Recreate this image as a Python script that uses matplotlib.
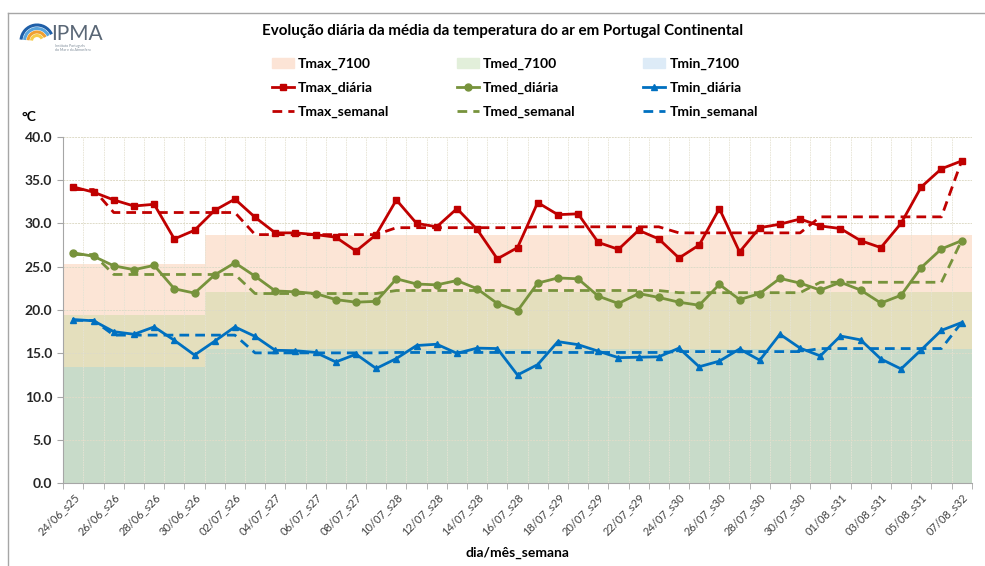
import numpy as np
import matplotlib
matplotlib.use("Agg")
import matplotlib.pyplot as plt
from matplotlib.patches import Patch, Arc
from matplotlib.lines import Line2D

plt.rcParams['font.family'] = ['Lato', 'DejaVu Sans']

# rótulos do eixo x (um em cada dois dias)
rotulos = ["24/06_s25", "26/06_s26", "28/06_s26", "30/06_s26", "02/07_s26",
           "04/07_s27", "06/07_s27", "08/07_s27", "10/07_s28", "12/07_s28",
           "14/07_s28", "16/07_s28", "18/07_s29", "20/07_s29", "22/07_s29",
           "24/07_s30", "26/07_s30", "28/07_s30", "30/07_s30", "01/08_s31",
           "03/08_s31", "05/08_s31", "07/08_s32"]

# valores diários (24/06 a 07/08)
tmax_diaria = [34.2, 33.6, 32.7, 32.0, 32.2, 28.2, 29.2, 31.5, 32.8, 30.7,
               28.9, 28.9, 28.7, 28.4, 26.8, 28.7, 32.7, 30.0, 29.6, 31.7,
               29.3, 25.9, 27.2, 32.4, 31.0, 31.1, 27.8, 27.0, 29.2, 28.2,
               26.0, 27.5, 31.7, 26.7, 29.5, 29.9, 30.5, 29.7, 29.4, 28.0,
               27.2, 30.0, 34.2, 36.3, 37.2]
tmed_diaria = [26.6, 26.2, 25.1, 24.65, 25.15, 22.45, 21.95, 24.05, 25.45, 23.9,
               22.2, 22.1, 21.9, 21.2, 20.9, 21.0, 23.6, 23.0, 22.9, 23.4,
               22.45, 20.75, 19.9, 23.1, 23.7, 23.6, 21.6, 20.75, 21.9, 21.45,
               20.9, 20.55, 22.95, 21.2, 21.9, 23.65, 23.1, 22.3, 23.2, 22.3,
               20.8, 21.7, 24.9, 27.05, 28.0]
tmin_diaria = [18.9, 18.75, 17.5, 17.2, 18.05, 16.5, 14.8, 16.4, 18.05, 16.95,
               15.35, 15.3, 15.1, 14.0, 14.9, 13.25, 14.4, 15.9, 16.05, 15.0,
               15.6, 15.55, 12.5, 13.7, 16.35, 16.0, 15.25, 14.5, 14.55, 14.6,
               15.6, 13.45, 14.1, 15.5, 14.2, 17.2, 15.6, 14.7, 17.0, 16.55,
               14.35, 13.2, 15.4, 17.65, 18.55]

# valores semanais (s25 a s32) e número de dias de cada semana no período
dias_semana = [2, 7, 7, 7, 7, 7, 7, 1]
tmax_semanal = [33.9, 31.25, 28.7, 29.5, 29.6, 28.9, 30.75, 37.2]
tmed_semanal = [26.4, 24.1, 21.9, 22.25, 22.25, 22.0, 23.2, 28.0]
tmin_semanal = [18.8, 17.1, 15.05, 15.1, 15.1, 15.2, 15.55, 18.55]

# normais 1971-2000 (junho, julho, agosto) e dias de cada mês no período
dias_mes = [7, 31, 7]
tmax_7100 = [25.3, 28.7, 28.7]
tmed_7100 = [19.4, 22.05, 22.05]
tmin_7100 = [13.45, 15.5, 15.5]

n = len(tmax_diaria)
x = np.arange(n)
xe = np.arange(n + 1) - 0.5


def por_dia(valores, contagem):
    return np.repeat(valores, contagem)


def degrau(valores):
    v = por_dia(valores, dias_mes)
    return np.append(v, v[-1])


W, H = 985, 566
fig = plt.figure(figsize=(W / 100, H / 100), dpi=100)


def fx(px):
    return px / W


def fy(py):
    return 1 - py / H


ax = fig.add_axes([fx(63.3), fy(483.3), fx(971.7) - fx(63.3), fy(136.7) - fy(483.3)])

# normais (áreas sobrepostas)
c_max, c_med, c_min = '#fce5d6', '#e4dfbd', '#c8dbc9'
ax.fill_between(xe, 0, degrau(tmax_7100), step='post', color=c_max, lw=0)
ax.fill_between(xe, 0, degrau(tmed_7100), step='post', color=c_med, lw=0)
ax.fill_between(xe, 0, degrau(tmin_7100), step='post', color=c_min, lw=0)

vermelho, verde, azul = '#c00000', '#77933c', '#0070c0'
tr = (3.5, 2.2)
ax.plot(x, por_dia(tmax_semanal, dias_semana), color=vermelho, lw=2, dashes=tr)
ax.plot(x, por_dia(tmed_semanal, dias_semana), color=verde, lw=2, dashes=tr)
ax.plot(x, por_dia(tmin_semanal, dias_semana), color=azul, lw=2, dashes=tr)
ax.plot(x, tmax_diaria, color=vermelho, lw=2, marker='s', ms=4)
ax.plot(x, tmed_diaria, color=verde, lw=2, marker='o', ms=5)
ax.plot(x, tmin_diaria, color=azul, lw=2, marker='^', ms=4)

ax.set_xlim(-0.5, n - 0.5)
ax.set_ylim(0, 40)
ax.set_yticks(np.arange(0, 40.1, 5))
ax.set_yticklabels([f"{v:.1f}" for v in np.arange(0, 40.1, 5)],
                   fontsize=10, fontweight='bold', color='#262626')
ax.set_xticks(x[::2])
ax.set_xticklabels(rotulos, rotation=45, ha='right', va='top',
                   rotation_mode='anchor', fontsize=8, color='#404040')
ax.set_xticks(xe, minor=True)
ax.tick_params(axis='x', which='major', length=0, pad=6)
ax.tick_params(axis='x', which='minor', length=4, color='#a6a6a6')
ax.tick_params(axis='y', length=4, color='#a6a6a6', pad=4)

ax.grid(axis='y', which='major', color='#dedbc8', lw=0.7, ls=(0, (2, 1)))
ax.grid(axis='x', which='minor', color='#e6e3d4', lw=0.6, ls=(0, (2, 1)))
for s in ['top', 'right']:
    ax.spines[s].set_visible(False)
for s in ['left', 'bottom']:
    ax.spines[s].set_color('#a6a6a6')

ax.set_xlabel("dia/mês_semana", fontsize=10, fontweight='bold', labelpad=7)
fig.text(fx(22), fy(117), "°C", fontsize=10, fontweight='bold', va='center')

fig.text(fx(503), fy(31), "Evolução diária da média da temperatura do ar em Portugal Continental",
         fontsize=10.9, fontweight='bold', ha='center', va='center')

# legenda (preenchida por colunas)
handles = [
    Patch(color='#fce4d6'),
    Line2D([], [], color=vermelho, lw=2, marker='s', ms=4),
    Line2D([], [], color=vermelho, lw=2, dashes=tr),
    Patch(color='#e2efda'),
    Line2D([], [], color=verde, lw=2, marker='o', ms=5),
    Line2D([], [], color=verde, lw=2, dashes=tr),
    Patch(color='#ddebf7'),
    Line2D([], [], color=azul, lw=2, marker='^', ms=4),
    Line2D([], [], color=azul, lw=2, dashes=tr),
]
labels = ["Tmax_7100", "Tmax_diária", "Tmax_semanal",
          "Tmed_7100", "Tmed_diária", "Tmed_semanal",
          "Tmin_7100", "Tmin_diária", "Tmin_semanal"]
fig.legend(handles, labels, ncol=3, loc='upper left', bbox_to_anchor=(fx(266), fy(52)),
           frameon=False, prop={'size': 10, 'weight': 'bold'}, numpoints=1,
           handlelength=1.6, handleheight=0.7, handletextpad=0.3,
           labelspacing=0.85, columnspacing=4.85, borderaxespad=0)

# moldura da área do gráfico
fig.add_artist(Line2D([fx(8), fx(985)], [fy(13), fy(13)], color='#a6a6a6', lw=1))
fig.add_artist(Line2D([fx(8), fx(8)], [fy(13), fy(566)], color='#a6a6a6', lw=1))

# logotipo IPMA
lax = fig.add_axes([fx(17), fy(41), fx(36), fy(22) - fy(41)])
lax.set_xlim(0, 36)
lax.set_ylim(0, 19)
lax.set_aspect('equal')
lax.axis('off')
for r, c in zip([16, 12.5, 9, 5.5], ['#1f5fa8', '#5aa5dc', '#f0a030', '#f6cc4a']):
    lax.add_patch(Arc((20, 0), 2 * r, 2 * r, theta1=25, theta2=175, color=c, lw=2.2))
fig.text(fx(51), fy(34), "IPMA", fontsize=15, color='#5a6776', fontweight='normal', va='center')
fig.text(fx(55), fy(48), "Instituto Português\ndo Mar e da Atmosfera", fontsize=2.5,
         color='#7f8c99', va='center', linespacing=1.1)

fig.savefig("out.png", dpi=100)
